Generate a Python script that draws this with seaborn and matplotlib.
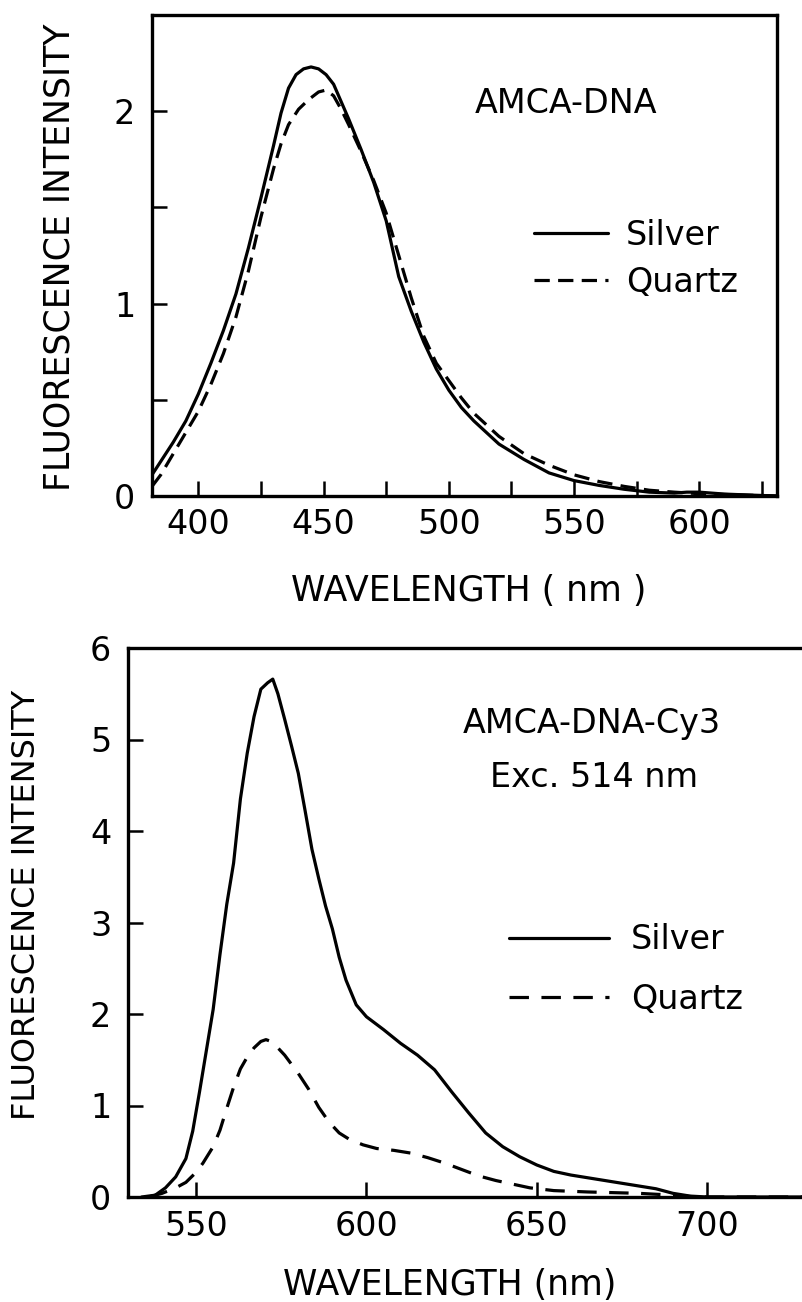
import numpy as np
import pandas as pd
import matplotlib
matplotlib.use("Agg")
import matplotlib.pyplot as plt
from matplotlib.ticker import MultipleLocator, FixedLocator
import seaborn as sns

# ---- AMCA-DNA emission (upper panel) ----
wl_top_silver = [381.5, 385, 390, 395, 400, 405, 410, 415, 420, 425, 430, 433,
                 436, 439, 442, 445, 448, 451, 454, 457, 460, 465, 470, 475,
                 480, 485, 490, 495, 500, 505, 510, 520, 530, 540, 550, 560,
                 570, 580, 590, 595, 600, 610, 620, 631]
silver_top = [0.11, 0.18, 0.28, 0.39, 0.53, 0.69, 0.86, 1.05, 1.29, 1.55,
              1.82, 1.99, 2.12, 2.19, 2.22, 2.23, 2.22, 2.19, 2.14, 2.05,
              1.96, 1.80, 1.63, 1.43, 1.14, 0.96, 0.80, 0.66, 0.55, 0.46,
              0.39, 0.27, 0.19, 0.12, 0.08, 0.055, 0.035, 0.02, 0.015, 0.02,
              0.02, 0.01, 0.005, 0.0]

wl_top_quartz = [381.5, 385, 390, 395, 400, 405, 410, 415, 420, 425, 430, 433,
                 436, 440, 444, 448, 451, 454, 457, 460, 465, 470, 475, 480,
                 485, 490, 495, 500, 505, 510, 520, 530, 540, 550, 560, 570,
                 580, 590, 600, 610, 620, 631]
quartz_top = [0.05, 0.11, 0.22, 0.33, 0.44, 0.58, 0.74, 0.93, 1.17, 1.45,
              1.70, 1.83, 1.93, 2.01, 2.06, 2.10, 2.11, 2.08, 2.01, 1.93,
              1.79, 1.64, 1.47, 1.25, 1.03, 0.83, 0.69, 0.60, 0.51, 0.43,
              0.31, 0.22, 0.16, 0.11, 0.075, 0.05, 0.03, 0.02, 0.012, 0.008,
              0.004, 0.0]

# ---- AMCA-DNA-Cy3 emission, excitation 514 nm (lower panel) ----
wl_bot_silver = [534, 538, 541, 544, 547, 549, 551, 553, 555, 557, 559, 561,
                 563, 565, 567, 569, 571, 572.5, 574, 576, 578, 580, 582, 584,
                 586, 588, 590, 592, 594, 597, 600, 605, 610, 615, 620, 625,
                 630, 635, 640, 645, 650, 655, 660, 665, 670, 675, 680, 685,
                 690, 695, 700, 731]
silver_bot = [0.0, 0.02, 0.10, 0.22, 0.42, 0.72, 1.15, 1.60, 2.05, 2.65,
              3.20, 3.65, 4.35, 4.85, 5.25, 5.55, 5.62, 5.66, 5.50, 5.22,
              4.93, 4.63, 4.22, 3.80, 3.48, 3.18, 2.93, 2.62, 2.37, 2.10,
              1.97, 1.83, 1.68, 1.55, 1.39, 1.15, 0.92, 0.70, 0.55, 0.44,
              0.35, 0.28, 0.24, 0.21, 0.18, 0.15, 0.12, 0.09, 0.04, 0.01,
              0.0, 0.0]

wl_bot_quartz = [536, 540, 544, 547, 550, 552, 555, 557, 559, 561, 563, 565,
                 567, 569, 570.5, 572, 574, 576, 578, 580, 583, 586, 589, 592,
                 595, 599, 603, 608, 613, 618, 623, 628, 633, 638, 643, 648,
                 655, 665, 680, 690, 697, 731]
quartz_bot = [0.0, 0.04, 0.10, 0.16, 0.27, 0.37, 0.55, 0.73, 0.97, 1.20,
              1.40, 1.53, 1.63, 1.70, 1.72, 1.70, 1.63, 1.55, 1.45, 1.35,
              1.18, 0.98, 0.82, 0.70, 0.63, 0.57, 0.53, 0.51, 0.48, 0.43,
              0.37, 0.30, 0.23, 0.18, 0.14, 0.10, 0.07, 0.055, 0.04, 0.02,
              0.0, 0.0]

substrates = ["Silver", "Quartz"]


def long_frame(wl_s, silver, wl_q, quartz):
    return pd.DataFrame({
        "wavelength": list(wl_s) + list(wl_q),
        "intensity": list(silver) + list(quartz),
        "substrate": [substrates[0]] * len(wl_s) + [substrates[1]] * len(wl_q),
    })


df_top = long_frame(wl_top_silver, silver_top, wl_top_quartz, quartz_top)
df_bot = long_frame(wl_bot_silver, silver_bot, wl_bot_quartz, quartz_bot)

sns.set_style("ticks")
plt.rcParams["font.family"] = ["DejaVu Sans"]
plt.rcParams["lines.scale_dashes"] = False
plt.rcParams["axes.linewidth"] = 2.4
for key in ("text.color", "axes.labelcolor", "xtick.color", "ytick.color",
            "axes.edgecolor", "xtick.labelcolor", "ytick.labelcolor"):
    plt.rcParams[key] = "black"

FS = 24
W, H = 802, 1302
fig = plt.figure(figsize=(W / 100, H / 100), dpi=100)
ax1 = fig.add_axes([152 / W, (H - 496) / H, 625 / W, 481 / H])
ax2 = fig.add_axes([128 / W, (H - 1197) / H, 684 / W, 549 / H])

sns.lineplot(data=df_top, x="wavelength", y="intensity", style="substrate",
             style_order=substrates,
             dashes={"Silver": "", "Quartz": (11, 6)},
             color="black", lw=2.3, estimator=None, sort=False, ax=ax1)
sns.lineplot(data=df_bot, x="wavelength", y="intensity", style="substrate",
             style_order=substrates,
             dashes={"Silver": "", "Quartz": (14, 9)},
             color="black", lw=2.3, estimator=None, sort=False, ax=ax2)

# upper panel axes
ax1.set_xlim(381.5, 631)
ax1.set_ylim(0, 2.5)
ax1.xaxis.set_major_locator(FixedLocator([400, 450, 500, 550, 600]))
ax1.xaxis.set_minor_locator(FixedLocator([425, 475, 525, 575, 625]))
ax1.yaxis.set_major_locator(FixedLocator([0, 1, 2]))
ax1.yaxis.set_minor_locator(FixedLocator([0.5, 1.5]))

# lower panel axes
ax2.set_xlim(530, 730.8)
ax2.set_ylim(0, 6)
ax2.xaxis.set_major_locator(FixedLocator([550, 600, 650, 700]))
ax2.yaxis.set_major_locator(MultipleLocator(1))

for ax in (ax1, ax2):
    for s in ax.spines.values():
        s.set_visible(True)
        s.set_color("black")
        s.set_linewidth(2.4)
    ax.tick_params(which="both", direction="in", length=11, width=1.8,
                   color="black", labelcolor="black", labelsize=FS, pad=9,
                   top=False, right=False)
    ax.tick_params(axis="y", pad=12)

ax1.set_xlabel("WAVELENGTH ( nm )", fontsize=25, color="black")
ax1.set_ylabel("FLUORESCENCE INTENSITY", fontsize=25, color="black")
ax1.xaxis.set_label_coords(0.506, -0.162)
ax1.yaxis.set_label_coords(-0.12, 0.497)

ax2.set_xlabel("WAVELENGTH (nm)", fontsize=25, color="black")
ax2.set_ylabel("FLUORESCENCE INTENSITY", fontsize=23, color="black")
ax2.xaxis.set_label_coords(0.47, -0.129)
ax2.yaxis.set_label_coords(-0.126, 0.532)

ax1.text(0.662, 0.817, "AMCA-DNA", transform=ax1.transAxes,
         ha="center", va="center", fontsize=FS, color="black")
ax2.text(0.678, 0.863, "AMCA-DNA-Cy3", transform=ax2.transAxes,
         ha="center", va="center", fontsize=FS, color="black")
ax2.text(0.681, 0.765, "Exc. 514 nm", transform=ax2.transAxes,
         ha="center", va="center", fontsize=FS, color="black")

sns.move_legend(ax1, "center left", bbox_to_anchor=(0.585, 0.493),
                frameon=False, title=None, fontsize=FS, borderpad=0,
                handlelength=2.2, handletextpad=0.55, labelspacing=0.42,
                labelcolor="black")
sns.move_legend(ax2, "center left", bbox_to_anchor=(0.532, 0.414),
                frameon=False, title=None, fontsize=FS, borderpad=0,
                handlelength=3.0, handletextpad=0.67, labelspacing=0.8,
                labelcolor="black")
for ax in (ax1, ax2):
    for line in ax.get_legend().get_lines():
        line.set_linewidth(2.3)
        line.set_color("black")

fig.savefig("out.png", dpi=100, facecolor="white")
